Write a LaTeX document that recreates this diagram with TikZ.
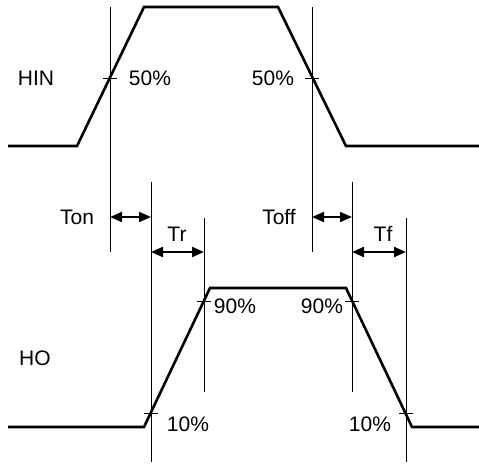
\documentclass[tikz,border=0pt]{standalone}
\usepackage{fontspec}
\setmainfont{Liberation Sans}
\usetikzlibrary{arrows.meta}
\begin{document}
\begin{tikzpicture}[x=1pt,y=-1pt,
  wave/.style={line width=2.6pt, line join=miter},
  guide/.style={line width=0.9pt},
  tickmark/.style={line width=0.9pt},
  dimarrow/.style={line width=2pt,{Triangle[length=12pt,width=10pt]}-{Triangle[length=12pt,width=10pt]}},
  lbl/.style={inner sep=0pt, font=\fontsize{21}{25}\selectfont}]
\useasboundingbox (0,0) rectangle (479,464);
% HIN waveform
\coordinate (h1) at (8,146);
\coordinate (h2) at (77,146);
\coordinate (h3) at (144,7);
\coordinate (h4) at (278,7);
\coordinate (h5) at (346,146);
\coordinate (h6) at (479,146);
\draw[wave] (h1) -- (h2) -- (h3) -- (h4) -- (h5) -- (h6);
% HO waveform
\coordinate (o1) at (8,427);
\coordinate (o2) at (144,427);
\coordinate (o3) at (210,288);
\coordinate (o4) at (346,288);
\coordinate (o5) at (412,427);
\coordinate (o6) at (479,427);
\draw[wave] (o1) -- (o2) -- (o3) -- (o4) -- (o5) -- (o6);
% guide lines
\coordinate (g1a) at (110,7);   \coordinate (g1b) at (110,252);
\coordinate (g2a) at (312,7);   \coordinate (g2b) at (312,252);
\coordinate (g3a) at (151,182); \coordinate (g3b) at (151,462);
\coordinate (g4a) at (204,218); \coordinate (g4b) at (204,392);
\coordinate (g5a) at (352,182); \coordinate (g5b) at (352,392);
\coordinate (g6a) at (406,218); \coordinate (g6b) at (406,462);
\foreach \g in {1,...,6} \draw[guide] (g\g a) -- (g\g b);
% tick marks
\foreach \n/\x/\y in {t1/110/78, t2/312/78, t3/204/301, t4/151/413, t5/352/301, t6/406/413}{
  \coordinate (\n) at (\x,\y);
  \draw[tickmark] ([xshift=-7pt]\n) -- ([xshift=7pt]\n);
}
% dimension arrows
\coordinate (a1) at (110,217); \coordinate (a2) at (151,217);
\coordinate (b1) at (151,252); \coordinate (b2) at (204,252);
\coordinate (c1) at (312,217); \coordinate (c2) at (352,217);
\coordinate (d1) at (352,252); \coordinate (d2) at (406,252);
\draw[dimarrow] (a1) -- (a2);
\draw[dimarrow] (b1) -- (b2);
\draw[dimarrow] (c1) -- (c2);
\draw[dimarrow] (d1) -- (d2);
% labels
\node[lbl] (hin) at (36,78) {HIN};
\node[lbl] (p50a) at (150,78) {50\%};
\node[lbl] (p50b) at (273,78) {50\%};
\node[lbl] (ton) at (77,217) {Ton};
\node[lbl] (tr) at (177,234) {Tr};
\node[lbl] (toff) at (279,217) {Toff};
\node[lbl] (tf) at (383,234) {Tf};
\node[lbl] (ho) at (35,358) {HO};
\node[lbl] (p90a) at (235,306) {90\%};
\node[lbl] (p10a) at (188,424) {10\%};
\node[lbl] (p90b) at (322,306) {90\%};
\node[lbl] (p10b) at (370,424) {10\%};
\end{tikzpicture}
\end{document}
